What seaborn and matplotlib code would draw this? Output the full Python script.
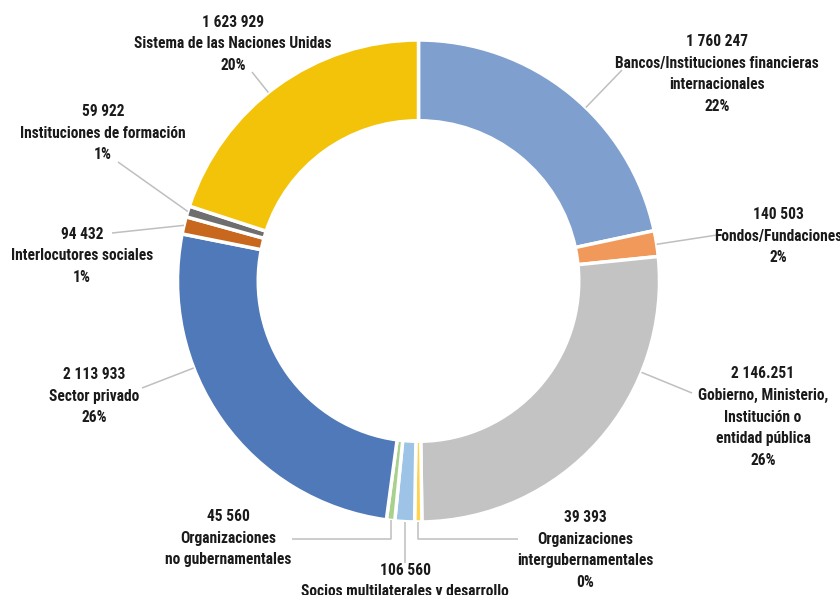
import numpy as np
import matplotlib
matplotlib.use("Agg")
import matplotlib.pyplot as plt
import seaborn as sns

# Contributions by partner type (clockwise from 12 o'clock)
categories = [
    "Bancos/Instituciones financieras\ninternacionales",
    "Fondos/Fundaciones",
    "Gobierno, Ministerio,\nInstitución o\nentidad pública",
    "Organizaciones\nintergubernamentales",
    "Socios multilaterales y desarrollo",
    "Organizaciones\nno gubernamentales",
    "Sector privado",
    "Interlocutores sociales",
    "Instituciones de formación",
    "Sistema de las Naciones Unidas",
]
values = [1760247, 140503, 2146251, 39393, 106560, 45560, 2113933, 94432, 59922, 1623929]
value_labels = ["1 760 247", "140 503", "2 146.251", "39 393", "106 560",
                "45 560", "2 113 933", "94 432", "59 922", "1 623 929"]
pct_labels = ["22%", "2%", "26%", "0%", None, None, "26%", "1%", "1%", "20%"]

colors = ["#7F9FCF", "#F0995A", "#C3C3C3", "#FFD34F", "#9DC3E6",
          "#A9D18E", "#4F79B8", "#C8671E", "#6E6E6E", "#F3C30A"]

sns.set_theme(style="white")
plt.rcParams["font.family"] = ["Roboto Condensed", "DejaVu Sans"]

fig = plt.figure(figsize=(8.4, 5.95), dpi=100)
ax = fig.add_axes([0, 0, 1, 1])

cx, cy, R = 418.5, 281, 241
ring = 0.335

ax.pie(values, colors=colors, startangle=270, counterclock=True,
       center=(cx, cy), radius=R, frame=True,
       wedgeprops=dict(width=R * ring, edgecolor="white", linewidth=2.5))
ax.set_xlim(0, 840)
ax.set_ylim(595, 0)
ax.set_aspect("equal")
ax.axis("off")

# label block centre, leader-line start next to the text, and whether the
# leader bends into a vertical drop to the ring
label_layout = [
    dict(text=(717, 74), anchor=(622, 70), elbow=False),
    dict(text=(778, 236), anchor=(717, 235), elbow=False),
    dict(text=(763, 417), anchor=(692, 393), elbow=False),
    dict(text=(585, 550), anchor=(518, 539), elbow=True),
    dict(text=(405, 581), anchor=(405, 563), elbow=True),
    dict(text=(228, 538), anchor=(292, 539), elbow=True),
    dict(text=(94, 396), anchor=(142, 388), elbow=False),
    dict(text=(82, 256), anchor=(112, 233), elbow=False),
    dict(text=(103, 133), anchor=(118, 162), elbow=False),
    dict(text=(233, 44), anchor=(252, 72), elbow=False),
]

total = float(sum(values))
starts = np.cumsum([0] + values[:-1]) / total * 360.0   # clockwise from top
spans = np.array(values) / total * 360.0


def ring_point(angle_deg):
    a = np.deg2rad(angle_deg)
    return cx + R * np.sin(a), cy - R * np.cos(a)


for i, lay in enumerate(label_layout):
    axx, ayy = lay["anchor"]
    mx, my = ring_point(starts[i] + spans[i] / 2)
    if lay["elbow"]:
        pts = [(axx, ayy), (mx, ayy), (mx, my)]
    else:
        ang = np.degrees(np.arctan2(axx - cx, -(ayy - cy))) % 360
        if starts[i] <= ang <= starts[i] + spans[i]:
            end = ring_point(ang)
        else:
            end = (mx, my)
        pts = [(axx, ayy), end]
    ax.plot([p[0] for p in pts], [p[1] for p in pts], color="#BFBFBF",
            lw=1.1, solid_capstyle="butt", zorder=1)

    lines = [value_labels[i], categories[i]]
    if pct_labels[i]:
        lines.append(pct_labels[i])
    ax.text(lay["text"][0], lay["text"][1], "\n".join(lines),
            ha="center", va="center", fontsize=11.2, fontweight="bold",
            color="#1a1a1a", linespacing=1.55)

fig.savefig("out.png", dpi=100, facecolor="white")
